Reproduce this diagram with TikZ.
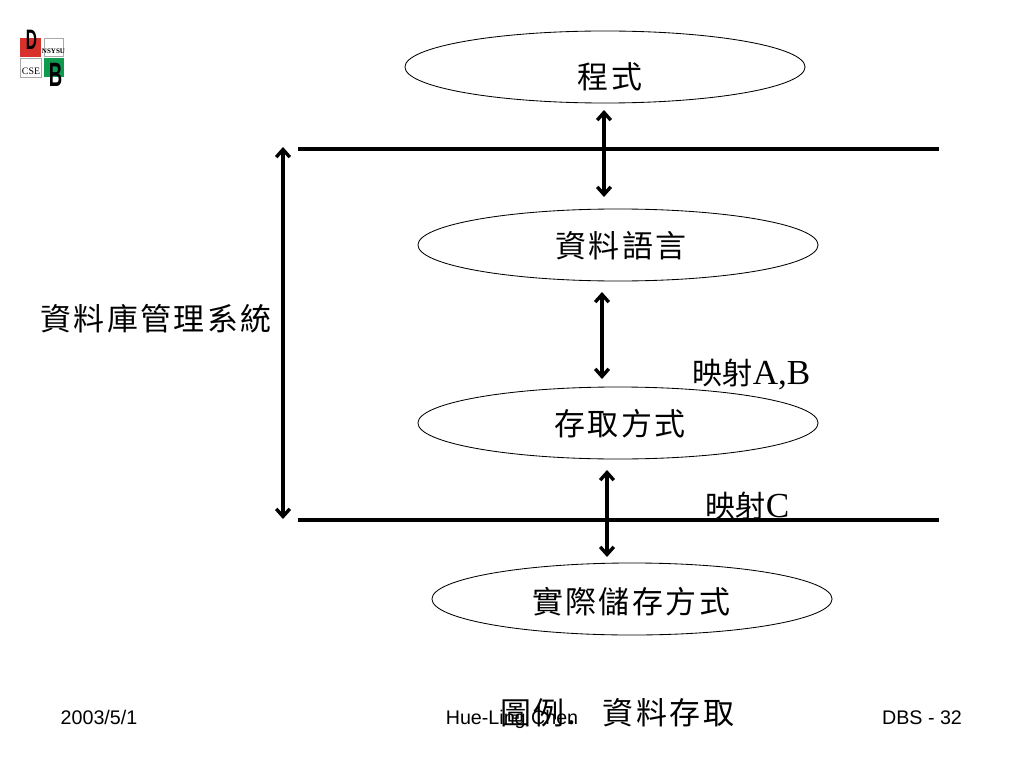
\documentclass[tikz,border=0pt]{standalone}
\usepackage{fontspec}
\usepackage{xcolor}
\usetikzlibrary{arrows.meta,shapes.geometric}
\setmainfont{Liberation Serif}
\setsansfont{Liberation Sans}
\newfontfamily\cjk[LetterSpace=8]{Noto Sans CJK TC}
\newfontfamily\cjkmap{Noto Sans CJK TC}
\definecolor{dbred}{HTML}{D8302A}
\definecolor{dbgreen}{HTML}{109A50}
\definecolor{dbgrey}{HTML}{A8A8A8}

\begin{document}
\begin{tikzpicture}[x=0.025cm,y=-0.025cm,
  lvl/.style={ellipse,draw=black,line width=0.6pt,fill=white,minimum width=10cm,minimum height=1.8cm,inner sep=0pt},
  bar/.style={line width=2.2pt},
  dbl/.style={{Straight Barb[length=1.9mm,width=3.4mm]}-{Straight Barb[length=1.9mm,width=3.4mm]},line width=2.4pt},
  foot/.style={font=\sffamily\fontsize{14}{16}\selectfont,inner sep=0pt,anchor=base},
  lab/.style={font=\cjk\fontsize{22}{26}\selectfont,inner sep=0pt},
  mapl/.style={font=\fontsize{25}{28}\selectfont,inner sep=0pt},
  logo/.style={inner sep=0pt,text=black,xscale=0.55}]
\useasboundingbox (0,0) rectangle (1024,768);

% logo
\fill[dbred] (20,38) rectangle (41,57);
\fill[dbgreen] (44,58) rectangle (64,77);
\draw[dbgrey,line width=0.5pt] (44,38) rectangle (63,56);
\draw[dbgrey,line width=0.5pt] (20,58) rectangle (41,77);
\node[inner sep=0pt,font=\bfseries\fontsize{5}{6}\selectfont] (nsysu) at (53.5,51) {NSYSU};
\node[inner sep=0pt,font=\fontsize{7}{8}\selectfont] (cse) at (31,71) {CSE};
\node[logo,font=\sffamily\bfseries\fontsize{20}{20}\selectfont] (logod) at (31.5,40) {D};
\node[logo,font=\sffamily\bfseries\fontsize{24}{24}\selectfont] (logob) at (55.5,75) {B};

% footer
\node[foot] (date) at (99,724) {2003/5/1};
\node[foot] (author) at (512,724) {Hue-Ling Chen};
\node[foot] (page) at (922,724) {DBS - 32};

% levels
\node[lvl] (prog) at (605,67) {};
\node[lvl] (lang) at (618,245) {};
\node[lvl] (access) at (618,423) {};
\node[lvl] (store) at (632,599) {};
\node[lab] (progt) at (610,77) {程式};
\node[lab] (langt) at (621,246) {資料語言};
\node[lab] (accesst) at (620,424) {存取方式};
\node[lab] (storet) at (631,602) {實際儲存方式};

% lines
\coordinate (upl) at (298,149);
\coordinate (upr) at (939,149);
\coordinate (lol) at (298,520);
\coordinate (lor) at (939,520);
\draw[bar] (upl) -- (upr);
\draw[bar] (lol) -- (lor);

% arrows
\coordinate (s1) at (604,110);
\coordinate (e1) at (604,197);
\coordinate (s2) at (602,292);
\coordinate (e2) at (602,379);
\coordinate (s3) at (607,470);
\coordinate (e3) at (607,557);
\coordinate (s4) at (283,147);
\coordinate (e4) at (283,519);
\foreach \n in {1,2,3,4} \draw[dbl] (s\n) -- (e\n);

% labels
\node[lab,anchor=west] (dbms) at (40,319) {資料庫管理系統};
\node[mapl,anchor=west] (mapab) at (692,374) {{\cjkmap\fontsize{21.5}{24}\selectfont 映射}A,B};
\node[mapl,anchor=west] (mapc) at (705,506) {{\cjkmap\fontsize{21.5}{24}\selectfont 映射}C};
\node[lab,anchor=west] (caption) at (500,713) {圖例.\ \ \hspace{6pt}資料存取};
\end{tikzpicture}
\end{document}
